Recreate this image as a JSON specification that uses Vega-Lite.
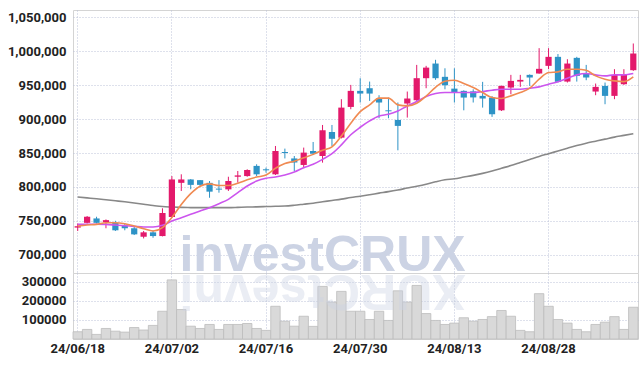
{
  "$schema": "https://vega.github.io/schema/vega-lite/v6.json",
  "padding": {"left": 6, "top": 9, "right": 9, "bottom": 5},
  "background": "white",
  "spacing": 0,
  "bounds": "flush",
  "config": {
    "view": {"stroke": "#d4d4d4", "strokeWidth": 1},
    "axis": {"labelFont": "Roboto", "labelFontWeight": "bold", "labelFontSize": 13, "labelColor": "#222222", "labelOverlap": false, "gridColor": "#bcc3d8", "gridDash": [1, 2], "gridWidth": 1, "domain": false, "ticks": false, "title": null}
  },
  "datasets": {
    "ohlc": [
      {"d":"24/06/18","o":740000,"h":746000,"l":735000,"c":742000,"v":38000,"m5":742300,"m10":744700,"m60":785100},
      {"d":"24/06/19","o":747000,"h":757000,"l":746000,"c":756000,"v":50000,"m5":743800,"m10":745000,"m60":783800},
      {"d":"24/06/20","o":753500,"h":756000,"l":746000,"c":747000,"v":24000,"m5":744700,"m10":745000,"m60":782500},
      {"d":"24/06/21","o":748000,"h":752000,"l":739000,"c":751000,"v":55000,"m5":747200,"m10":744700,"m60":781000},
      {"d":"24/06/24","o":747000,"h":750000,"l":735000,"c":736000,"v":41000,"m5":747200,"m10":743800,"m60":779500},
      {"d":"24/06/25","o":743000,"h":746000,"l":736000,"c":739000,"v":36000,"m5":745700,"m10":742800,"m60":778000},
      {"d":"24/06/26","o":739000,"h":741000,"l":729000,"c":730000,"v":60000,"m5":742300,"m10":741800,"m60":776300},
      {"d":"24/06/27","o":726500,"h":735000,"l":724000,"c":733000,"v":47000,"m5":738300,"m10":740800,"m60":774500},
      {"d":"24/06/28","o":733000,"h":736000,"l":725000,"c":727500,"v":71000,"m5":734900,"m10":740800,"m60":772600},
      {"d":"24/07/01","o":727500,"h":768500,"l":727000,"c":761500,"v":145000,"m5":740000,"m10":743300,"m60":771000},
      {"d":"24/07/02","o":755600,"h":816000,"l":754600,"c":811000,"v":309000,"m5":755000,"m10":749600,"m60":770300},
      {"d":"24/07/03","o":806000,"h":818600,"l":794000,"c":811000,"v":154000,"m5":774000,"m10":754600,"m60":769800},
      {"d":"24/07/04","o":811000,"h":811500,"l":796500,"c":803000,"v":67000,"m5":790000,"m10":759500,"m60":769500},
      {"d":"24/07/05","o":810000,"h":810000,"l":800000,"c":803000,"v":55000,"m5":801000,"m10":764400,"m60":769400},
      {"d":"24/07/08","o":806000,"h":808700,"l":784000,"c":793000,"v":76000,"m5":804500,"m10":769400,"m60":769400},
      {"d":"24/07/09","o":797500,"h":810000,"l":791500,"c":796000,"v":50000,"m5":802000,"m10":775300,"m60":769400},
      {"d":"24/07/10","o":796400,"h":815000,"l":794000,"c":808700,"v":76000,"m5":802000,"m10":781700,"m60":769400},
      {"d":"24/07/11","o":815000,"h":823500,"l":806300,"c":817000,"v":76000,"m5":805500,"m10":791500,"m60":769800},
      {"d":"24/07/12","o":816000,"h":826000,"l":815000,"c":825000,"v":81000,"m5":810500,"m10":801300,"m60":770300},
      {"d":"24/07/15","o":831000,"h":833400,"l":816100,"c":818600,"v":55000,"m5":814500,"m10":808700,"m60":770600},
      {"d":"24/07/16","o":826000,"h":828500,"l":821000,"c":824500,"v":45000,"m5":817600,"m10":812700,"m60":771000},
      {"d":"24/07/17","o":818600,"h":860400,"l":817600,"c":853000,"v":171000,"m5":827500,"m10":814600,"m60":771400},
      {"d":"24/07/18","o":851500,"h":856500,"l":842000,"c":850000,"v":93000,"m5":834500,"m10":817600,"m60":771800},
      {"d":"24/07/19","o":842000,"h":845600,"l":823500,"c":836000,"v":67000,"m5":838000,"m10":822000,"m60":773000},
      {"d":"24/07/22","o":832400,"h":858000,"l":828400,"c":850600,"v":119000,"m5":843000,"m10":828400,"m60":774500},
      {"d":"24/07/23","o":853000,"h":866300,"l":847000,"c":849000,"v":66000,"m5":848000,"m10":833300,"m60":776000},
      {"d":"24/07/24","o":845600,"h":891400,"l":835800,"c":883600,"v":275000,"m5":854000,"m10":840700,"m60":778000},
      {"d":"24/07/25","o":881000,"h":891400,"l":860400,"c":871000,"v":193000,"m5":859000,"m10":849000,"m60":780000},
      {"d":"24/07/26","o":872700,"h":929400,"l":871500,"c":917000,"v":249000,"m5":875000,"m10":862000,"m60":782000},
      {"d":"24/07/29","o":918000,"h":950500,"l":914600,"c":941700,"v":145000,"m5":894000,"m10":877000,"m60":784300},
      {"d":"24/07/30","o":941700,"h":960400,"l":924500,"c":937700,"v":145000,"m5":911000,"m10":888000,"m60":786300},
      {"d":"24/07/31","o":945600,"h":955400,"l":926900,"c":937700,"v":102000,"m5":921000,"m10":897400,"m60":788500},
      {"d":"24/08/01","o":930400,"h":935300,"l":901300,"c":924500,"v":145000,"m5":931000,"m10":904700,"m60":790800},
      {"d":"24/08/02","o":913000,"h":931800,"l":901300,"c":911600,"v":97000,"m5":931000,"m10":907200,"m60":793000},
      {"d":"24/08/05","o":898800,"h":924500,"l":854000,"c":890000,"v":252000,"m5":921000,"m10":912000,"m60":795500},
      {"d":"24/08/06","o":923000,"h":940700,"l":902300,"c":930400,"v":193000,"m5":919500,"m10":919500,"m60":798300},
      {"d":"24/08/07","o":927900,"h":980000,"l":926900,"c":960400,"v":280000,"m5":923500,"m10":925900,"m60":801000},
      {"d":"24/08/08","o":960400,"h":978600,"l":945600,"c":976000,"v":133000,"m5":934000,"m10":933300,"m60":804000},
      {"d":"24/08/09","o":982000,"h":987500,"l":958000,"c":960400,"v":97000,"m5":947000,"m10":937700,"m60":807500},
      {"d":"24/08/12","o":962400,"h":975000,"l":944000,"c":950000,"v":76000,"m5":956000,"m10":939200,"m60":810500},
      {"d":"24/08/13","o":945000,"h":975000,"l":924500,"c":939000,"v":83000,"m5":957400,"m10":939200,"m60":812000},
      {"d":"24/08/14","o":941700,"h":942500,"l":913000,"c":931800,"v":111000,"m5":952500,"m10":939200,"m60":814500},
      {"d":"24/08/16","o":941000,"h":944000,"l":924500,"c":932000,"v":93000,"m5":946600,"m10":939200,"m60":817000},
      {"d":"24/08/19","o":934300,"h":955000,"l":917000,"c":930400,"v":102000,"m5":939200,"m10":940700,"m60":820000},
      {"d":"24/08/20","o":931800,"h":934000,"l":903300,"c":907200,"v":117000,"m5":931800,"m10":942700,"m60":823500},
      {"d":"24/08/21","o":913000,"h":949500,"l":912000,"c":949000,"v":149000,"m5":930400,"m10":944100,"m60":827500},
      {"d":"24/08/22","o":946600,"h":965300,"l":936700,"c":956400,"v":119000,"m5":934300,"m10":944100,"m60":831500},
      {"d":"24/08/23","o":955400,"h":965300,"l":947600,"c":957900,"v":45000,"m5":939200,"m10":944100,"m60":836000},
      {"d":"24/08/26","o":965300,"h":966000,"l":949000,"c":961400,"v":38000,"m5":945600,"m10":945600,"m60":840500},
      {"d":"24/08/27","o":967300,"h":1004700,"l":967000,"c":974200,"v":237000,"m5":958900,"m10":947600,"m60":845000},
      {"d":"24/08/28","o":978600,"h":1004700,"l":973700,"c":991900,"v":171000,"m5":968800,"m10":951500,"m60":849000},
      {"d":"24/08/29","o":991900,"h":996000,"l":954000,"c":955000,"v":102000,"m5":969700,"m10":955000,"m60":853000},
      {"d":"24/08/30","o":955400,"h":988400,"l":954000,"c":982000,"v":83000,"m5":973700,"m10":960400,"m60":857000},
      {"d":"24/09/02","o":990400,"h":991900,"l":955400,"c":963800,"v":50000,"m5":973700,"m10":965300,"m60":861000},
      {"d":"24/09/03","o":967300,"h":980000,"l":957400,"c":961400,"v":38000,"m5":972200,"m10":967300,"m60":864500},
      {"d":"24/09/04","o":940700,"h":952500,"l":935300,"c":947600,"v":76000,"m5":963800,"m10":965300,"m60":867500},
      {"d":"24/09/05","o":949000,"h":954000,"l":922000,"c":934300,"v":88000,"m5":958900,"m10":963800,"m60":870500},
      {"d":"24/09/06","o":934300,"h":973700,"l":929400,"c":965300,"v":117000,"m5":956400,"m10":965300,"m60":873500},
      {"d":"24/09/09","o":951500,"h":973700,"l":950500,"c":965300,"v":50000,"m5":955400,"m10":965300,"m60":876000},
      {"d":"24/09/10","o":972200,"h":1011600,"l":971200,"c":996800,"v":166000,"m5":962400,"m10":967300,"m60":878600}
    ],
    "wm": [{"d": "24/07/24", "p": 676000, "v": 334000, "t": "investCRUX", "r": "XURCtsevni"}]
  },
  "vconcat": [
    {
      "width": 565,
      "height": 263,
      "encoding": {
        "x": {"field": "d", "type": "ordinal", "scale": {"type": "band", "paddingInner": 0, "paddingOuter": 0},
              "axis": {"labels": false, "grid": true, "minExtent": 0, "maxExtent": 0, "labelPadding": 0, "values": ["24/06/18", "24/07/02", "24/07/16", "24/07/30", "24/08/13", "24/08/28"]}}
      },
      "layer": [
        {
          "data": {"name": "ohlc"},
          "mark": {"type": "bar", "width": {"band": 0.66}, "opacity": 0},
          "encoding": {
            "y": {"field": "o", "type": "quantitative", "scale": {"domain": [673000, 1061000], "nice": false, "zero": false},
                  "axis": {"values": [700000, 750000, 800000, 850000, 900000, 950000, 1000000, 1050000], "tickCount": 20, "format": ",d", "labelPadding": 7, "labelOverlap": false, "grid": true}},
            "y2": {"field": "c"}
          }
        },
        {
          "data": {"name": "wm"},
          "mark": {"type": "text", "font": "Liberation Sans", "fontWeight": "bold", "fontSize": 50, "color": "#ccd3e4", "align": "center", "baseline": "alphabetic", "clip": true},
          "encoding": {
            "y": {"field": "p", "type": "quantitative"},
            "text": {"field": "t"}
          }
        },
        {
          "data": {"name": "ohlc"},
          "mark": {"type": "line", "color": "#888888", "strokeWidth": 1.6, "interpolate": "monotone"},
          "encoding": {"y": {"field": "m60", "type": "quantitative"}}
        },
        {
          "data": {"name": "ohlc"},
          "mark": {"type": "rule", "strokeWidth": 1},
          "encoding": {
            "y": {"field": "l", "type": "quantitative"},
            "y2": {"field": "h"},
            "color": {"condition": {"test": "datum.c >= datum.o", "value": "#e3196b"}, "value": "#2e93c6"}
          }
        },
        {
          "data": {"name": "ohlc"},
          "mark": {"type": "bar", "width": {"band": 0.66}},
          "encoding": {
            "y": {"field": "o", "type": "quantitative"},
            "y2": {"field": "c"},
            "color": {"condition": {"test": "datum.c >= datum.o", "value": "#e3196b"}, "value": "#2e93c6"}
          }
        },
        {
          "data": {"name": "ohlc"},
          "mark": {"type": "line", "color": "#cc55ee", "strokeWidth": 1.6, "interpolate": "monotone"},
          "encoding": {"y": {"field": "m10", "type": "quantitative"}}
        },
        {
          "data": {"name": "ohlc"},
          "mark": {"type": "line", "color": "#f08a52", "strokeWidth": 1.6, "interpolate": "monotone"},
          "encoding": {"y": {"field": "m5", "type": "quantitative"}}
        }
      ]
    },
    {
      "width": 565,
      "height": 66,
      "encoding": {
        "x": {"field": "d", "type": "ordinal", "scale": {"type": "band", "paddingInner": 0, "paddingOuter": 0},
              "axis": {"labelAngle": 0, "labelPadding": 3, "grid": true, "values": ["24/06/18", "24/07/02", "24/07/16", "24/07/30", "24/08/13", "24/08/28"]}}
      },
      "layer": [
        {
          "data": {"name": "ohlc"},
          "mark": {"type": "bar", "fill": "#d9d9d9", "stroke": "#bdbdbd", "strokeWidth": 0.8},
          "encoding": {
            "y": {"field": "v", "type": "quantitative", "scale": {"domain": [0, 345000], "nice": false},
                  "axis": {"values": [100000, 200000, 300000], "tickCount": 10, "format": "d", "labelPadding": 7, "labelOverlap": false, "grid": true}}
          }
        },
        {
          "data": {"name": "wm"},
          "mark": {"type": "text", "font": "Liberation Sans", "fontWeight": "bold", "fontSize": 50, "color": "#ccd3e4", "opacity": 0.4, "align": "center", "baseline": "alphabetic", "angle": 180, "clip": true},
          "encoding": {
            "y": {"field": "v", "type": "quantitative"},
            "text": {"field": "r"}
          }
        }
      ]
    }
  ]
}
